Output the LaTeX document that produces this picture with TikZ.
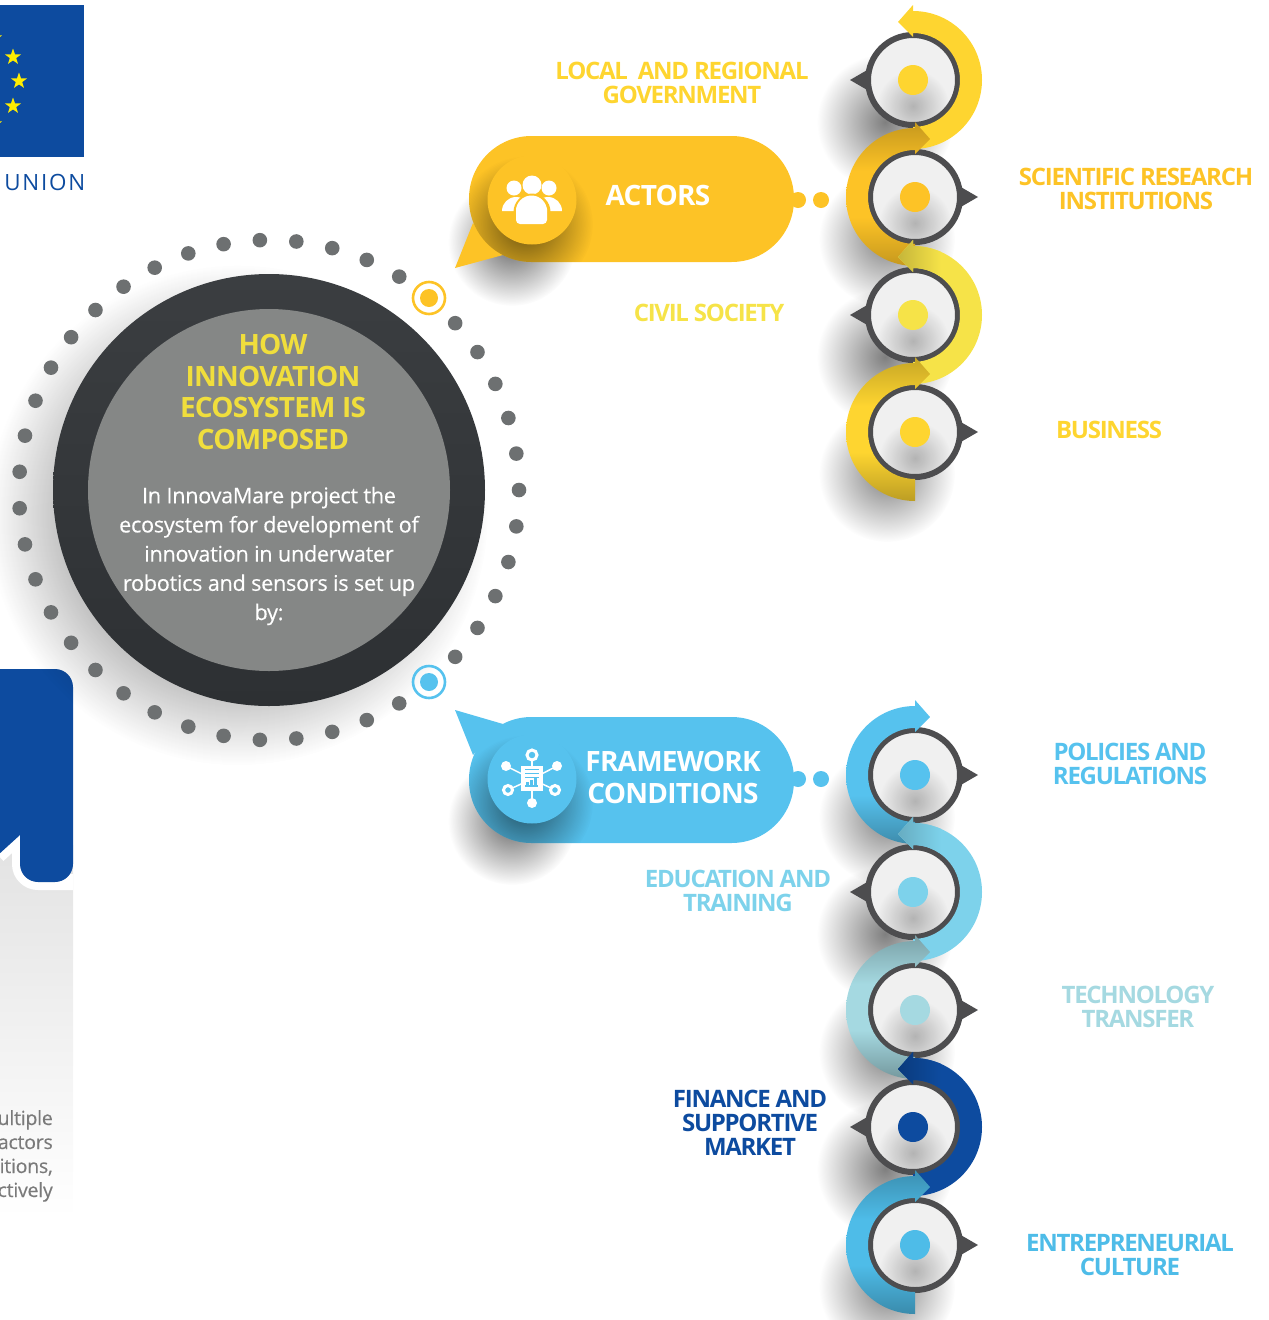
\documentclass[tikz,border=0pt]{standalone}
\usepackage{fontspec}
\setmainfont{Open Sans}
\newfontfamily\tightfont[LetterSpace=-5.3]{Open Sans}
\newfontfamily\headfont[LetterSpace=-2.8]{Open Sans}
\newfontfamily\bodyfont[LetterSpace=-1.2,FakeBold=0.35]{Open Sans}
\newfontfamily\wideUnion[LetterSpace=8]{Open Sans}
\usetikzlibrary{shapes.geometric,fadings}

\definecolor{euBlue}{HTML}{0D4B9F}
\definecolor{darkRing}{HTML}{4D4D4F}
\definecolor{dotGrey}{HTML}{6D7071}
\definecolor{hubTop}{HTML}{3B3E41}
\definecolor{hubBottom}{HTML}{2D3033}
\definecolor{hubInner}{HTML}{858786}
\definecolor{hubTitle}{HTML}{F0DE3C}
\definecolor{actorsCol}{HTML}{FDC326}
\definecolor{localCol}{HTML}{FED530}
\definecolor{civilCol}{HTML}{F6E348}
\definecolor{frameCol}{HTML}{56C2EE}
\definecolor{eduCol}{HTML}{7DD2EB}
\definecolor{techCol}{HTML}{A5D9E1}
\definecolor{entreCol}{HTML}{4EBCE8}

\tikzfading[name=softblob, inner color=transparent!0, outer color=transparent!100]

\pgfdeclareverticalshading[bandT,bandM,bandB]{bandgrad}{100bp}{color(0bp)=(bandB); color(25bp)=(bandB);
    color(42bp)=(bandM); color(58bp)=(bandM); color(75bp)=(bandT); color(100bp)=(bandT)}

\newcommand{\bandpath}{(0,69) arc[start angle=90,end angle=-90,radius=69] -- (0,-47)
    arc[start angle=-90,end angle=90,radius=47] -- (0,43) -- (-15,58) -- (0,75) -- cycle}

\tikzset{
  lbl/.style={font=\tightfont\bfseries\fontsize{24}{24}\selectfont, align=center, inner sep=0pt},
  hubdot/.style={fill=dotGrey},
  eustar/.style={star, star points=5, star point ratio=2.5, fill=yellow!95!orange, inner sep=0pt, minimum size=17pt},
  boxtxt/.style={font=\bodyfont\fontsize{19.5}{24}\selectfont, text=black!52, anchor=base east, inner sep=0pt},
  icon/.style={fill=white, draw=none}
}

\begin{document}
\begin{tikzpicture}[x=1pt,y=1pt]
  \useasboundingbox (0,0) rectangle (1269,-1320);

  % eu flag
  \fill[euBlue] (-2,-5) rectangle (84,-157);
  \foreach \n/\x/\y in {s1/-6/-38,s2/13/-57,s3/19/-81,s4/13/-106,s5/-6/-124} {
      \node[eustar] (\n) at (\x,\y) {};
  }
  \node[font=\wideUnion\fontsize{22.4}{22}\selectfont, text=euBlue, anchor=east, inner sep=0pt] (union) at (85.5,-182.5) {UNION};

  % left panel
  \shade[top color=black!11, bottom color=white] (-2,-845) rectangle (73,-1218);
  \draw[white,line width=16pt,line join=round] (-2,-855) -- (20,-835) -- (20,-864) arc[start angle=180,end angle=270,radius=18] -- (73,-882);
  \fill[euBlue] (-2,-669) -- (55,-669) arc[start angle=90,end angle=0,radius=18] -- (73,-864)
      arc[start angle=0,end angle=-90,radius=18] -- (38,-882) arc[start angle=270,end angle=180,radius=18]
      -- (20,-835) -- (-2,-855) -- cycle;
  \foreach \n/\y/\t in {p1/-1125/ultiple,p2/-1149/actors,p3/-1173/{itions,},p4/-1197/ctively} {
      \node[boxtxt] (\n) at (53,\y) {\t};
  }

  % hub
  \fill[black,opacity=.8,path fading=softblob] (238,-515) circle (250);
  \shade[top color=hubTop,bottom color=hubBottom] (269,-490) circle (216);
  \fill[hubInner] (269,-490) circle (181);
  \foreach \k in {0,...,42} {
      \ifnum\k=6 \else \ifnum\k=37 \else
          \fill[hubdot] (269,-490) ++({\k*360/43}:250) circle (7.3);
      \fi\fi
  }
  \foreach \n/\y/\c in {tgA/-298/actorsCol,tgB/-682/frameCol} {
      \draw[\c,line width=2.6pt] (429,\y) circle (16);
      \fill[\c] (429,\y) circle (9);
  }
  \node[font=\headfont\bfseries\fontsize{28}{31.7}\selectfont, text=hubTitle, align=center, inner sep=0pt] (hubtitle) at (273,-392)
      {HOW\\INNOVATION\\ECOSYSTEM IS\\COMPOSED};
  \node[font=\bodyfont\fontsize{21.6}{29.2}\selectfont, text=white, align=center, inner sep=0pt] (hubtext) at (269,-556)
      {In InnovaMare project the\\ecosystem for development of\\innovation in underwater\\robotics and sensors is set up\\by:};

  % bubbles
  \foreach \c/\yt/\ya/\yb/\yi/\tt in {actorsCol/-136/-268/-223/-200/1,frameCol/-717/-710/-755/-779/-1} {
      \fill[black,opacity=.6,path fading=softblob] (512,\yi-42) circle (64);
      \fill[\c,rounded corners=62.5pt] (469,\yt) rectangle (794,\yt-126);
      \fill[\c] (455,\ya) -- (473,\yb) -- (503,{\yi-\tt*55}) -- cycle;
      \fill[\c] (798,\yi) circle (8);
      \fill[\c] (821,\yi) circle (8);
      \begin{scope}
          \clip[rounded corners=62.5pt] (469,\yt) rectangle (794,\yt-126);
          \fill[black,opacity=.6,path fading=softblob] (525,\yi-24) circle (68);
      \end{scope}
      \fill[\c] (532,\yi) circle (44.5);
  }
  \node[font=\headfont\bfseries\fontsize{28}{32}\selectfont, text=white, inner sep=0pt] (actors) at (658,-195) {ACTORS};
  \node[font=\headfont\bfseries\fontsize{28}{32}\selectfont, text=white, align=center, inner sep=0pt] (frame) at (673,-777) {FRAMEWORK\\CONDITIONS};

  % people icon
  \fill[icon] (532,-185) circle (9.5);
  \fill[icon] (514,-188) circle (7.5);
  \fill[icon] (549,-188) circle (7.5);
  \fill[icon] (502,-211) arc[start angle=180,end angle=0,radius=14] -- cycle;
  \fill[icon] (534,-211) arc[start angle=180,end angle=0,radius=14] -- cycle;
  \fill[actorsCol] (532,-212) circle (18.5);
  \fill[icon,rounded corners=4pt] (516,-224) rectangle (547,-205);
  \fill[icon] (516,-211) arc[start angle=180,end angle=0,radius=15.5] -- cycle;

  % network icon
  \foreach \x/\y in {532/-755,506/-766,557/-766,508/-790,555/-790,532/-803} {
      \draw[white,line width=1.5pt] (532,-779) -- (\x,\y);
  }
  \foreach \x/\y/\r in {506/-766/5,557/-766/5,532/-803/5} {
      \fill[icon] (\x,\y) circle (\r);
  }
  \foreach \x/\y/\r in {532/-755/5,508/-790/4.5,555/-790/4.5} {
      \draw[white,fill=frameCol,line width=3pt] (\x,\y) circle (\r);
  }
  \fill[icon] (521,-766) rectangle (543,-791);
  \foreach \y in {-769,-773,-777} {
      \draw[frameCol,line width=1pt] (525,\y) -- (539,\y);
  }
  \fill[frameCol] (525,-785) rectangle (538,-786.5);
  \foreach \x/\h in {526/3,530/5,534/7} {
      \fill[frameCol] (\x,-785) rectangle (\x+2.5,-785+\h);
  }

  % ring shadows
  \foreach \cx/\cy in {913/-80,915/-197,913/-315,915/-432,915/-775,913/-892,915/-1010,913/-1127,915/-1245} {
      \fill[black,opacity=.5,path fading=softblob] (\cx-28,\cy-42) circle (68);
  }

  % rings
  \foreach \cx/\cy/\s/\c/\dt/\db/\hd in {
      913/-80/1/localCol/100/100/100,
      915/-197/-1/actorsCol/78/78/100,
      913/-315/1/civilCol/100/100/80,
      915/-432/-1/localCol/78/74/100,
      915/-775/-1/frameCol/100/72/100,
      913/-892/1/eduCol/100/100/82,
      915/-1010/-1/techCol/74/70/100,
      913/-1127/1/euBlue/100/100/78,
      915/-1245/-1/entreCol/76/74/100} {
      \begin{scope}[shift={(\cx,\cy)},xscale=\s]
          \fill[darkRing] (-63,0) -- (-44,11) -- (-44,-11) -- cycle;
          \draw[darkRing,line width=6pt,fill=black!6] (0,0) circle (45);
          \begin{scope}
              \clip (0,0) circle (42);
              \fill[black,opacity=.25,path fading=softblob] (0,-26) circle (36);
          \end{scope}
          \fill[\c] (0,0) circle (15);
          \colorlet{bandT}{\c!\dt!black}
          \colorlet{bandM}{\c}
          \colorlet{bandB}{\c!\db!black}
          \shade[shading=bandgrad] \bandpath;
          \ifnum\hd<100
              \begin{scope}
                  \clip \bandpath;
                  \shade[left color=\c!\hd!black,right color=\c] (-15,40) rectangle (28,80);
              \end{scope}
          \fi
      \end{scope}
  }

  % labels
  \foreach \n/\x/\y/\c/\t in {
      lLocal/682/-83/localCol/{LOCAL~ AND REGIONAL\\GOVERNMENT},
      lSci/1136/-189/actorsCol/{SCIENTIFIC RESEARCH\\INSTITUTIONS},
      lCivil/709/-313/civilCol/{CIVIL SOCIETY},
      lBus/1109/-430/localCol/{BUSINESS},
      lPol/1130/-764/frameCol/{POLICIES AND\\REGULATIONS},
      lEdu/738/-891/eduCol/{EDUCATION AND\\TRAINING},
      lTech/1138/-1007/techCol/{TECHNOLOGY\\TRANSFER},
      lFin/750/-1123/euBlue/{FINANCE AND\\SUPPORTIVE\\MARKET},
      lEnt/1130/-1255/entreCol/{ENTREPRENEURIAL\\CULTURE}} {
      \node[lbl,text=\c] (\n) at (\x,\y) {\t};
  }
\end{tikzpicture}
\end{document}
